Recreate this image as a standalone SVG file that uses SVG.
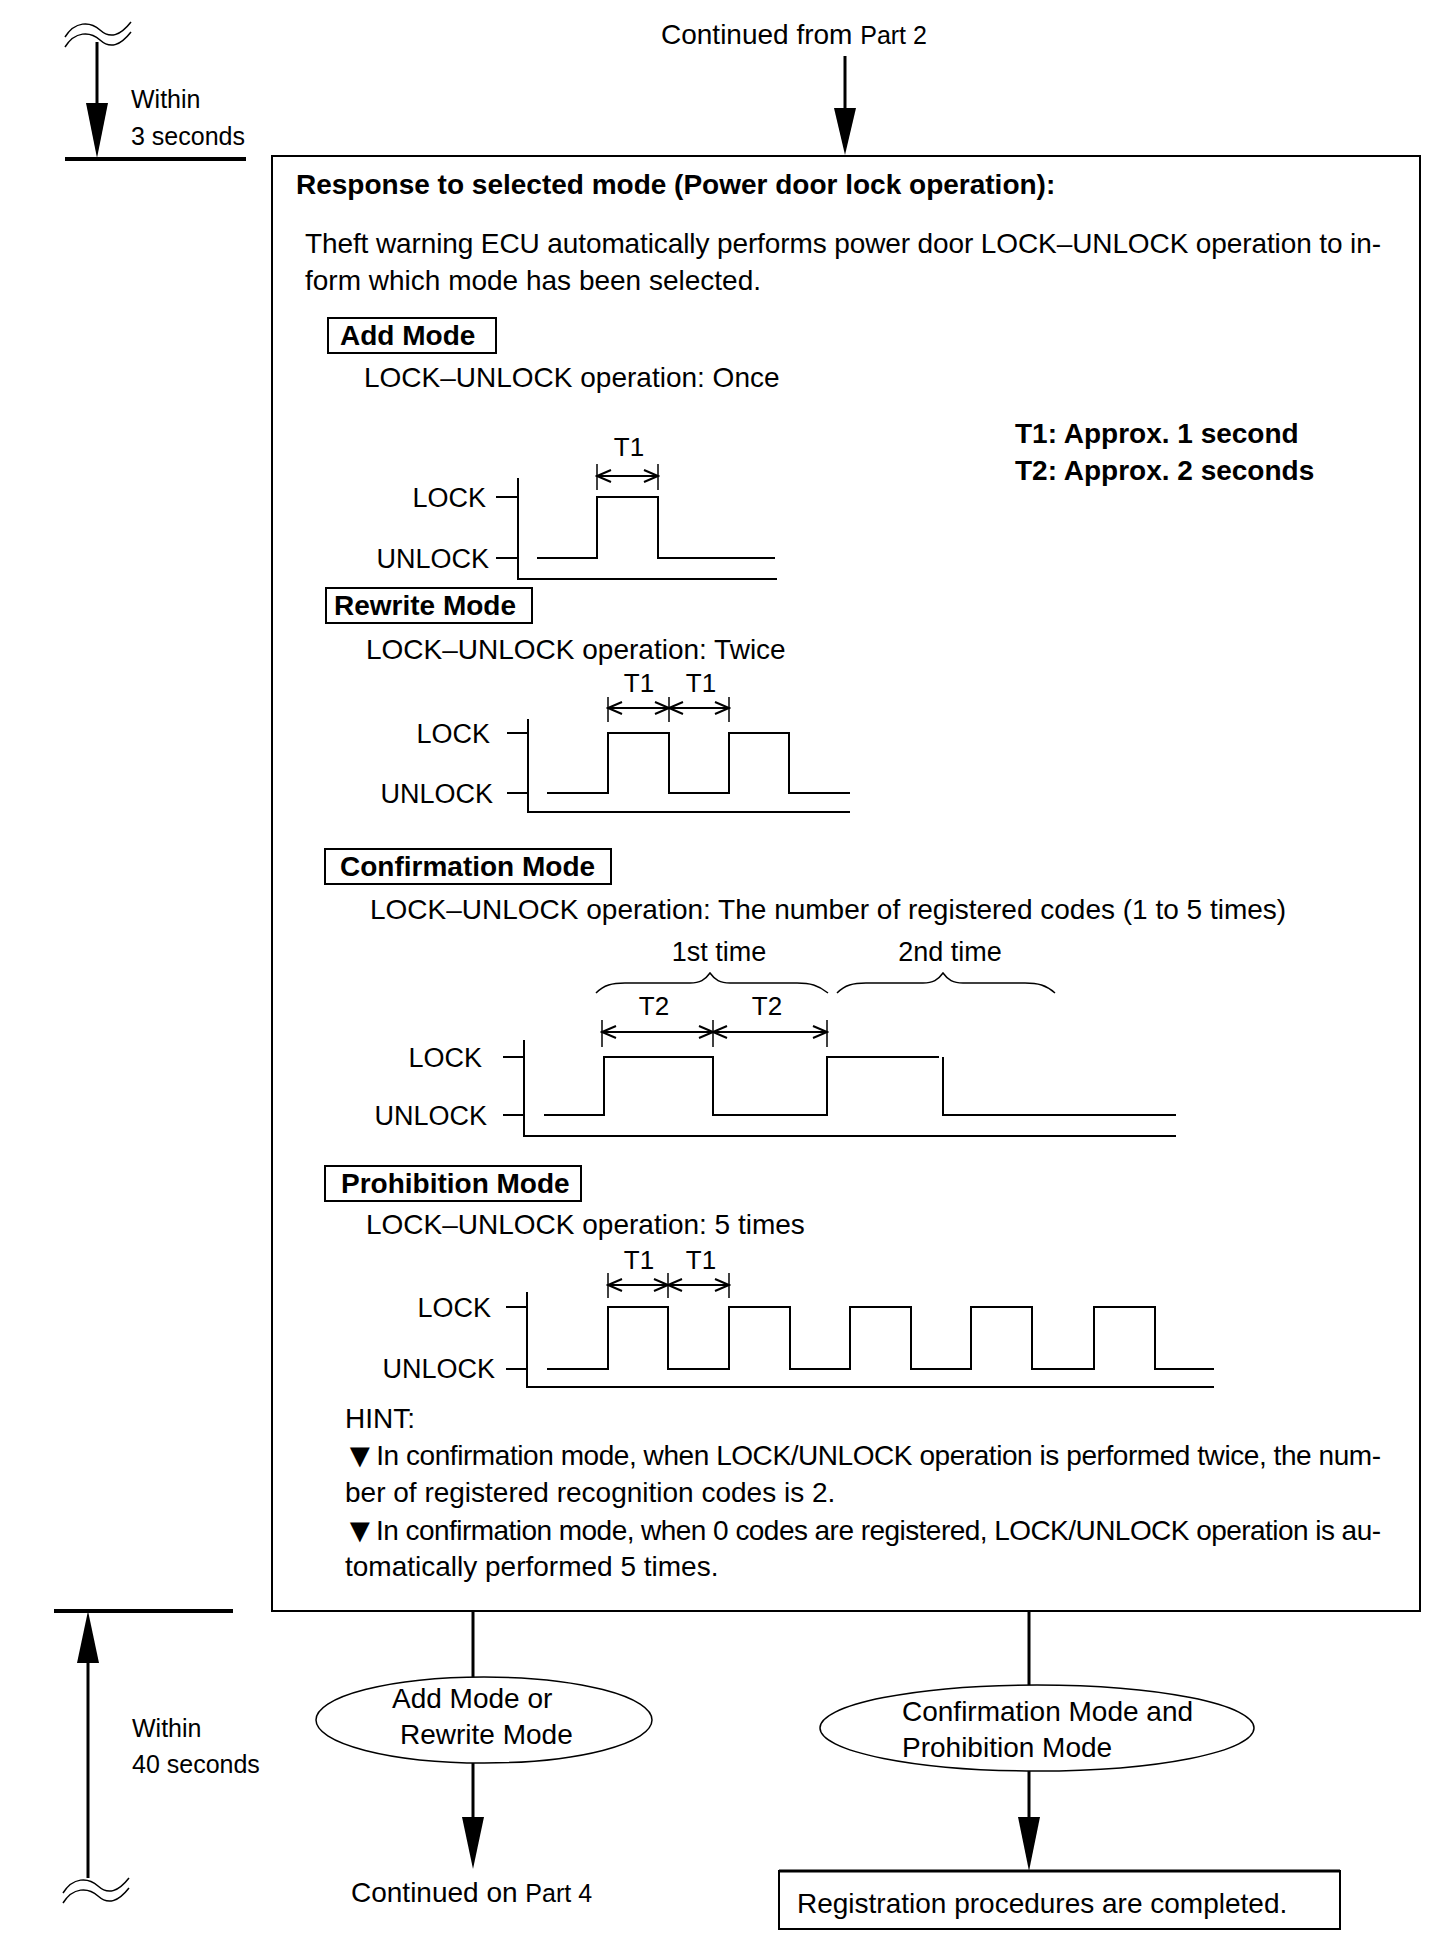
<svg xmlns="http://www.w3.org/2000/svg" width="1456" height="1958" viewBox="0 0 1456 1958">
<defs>
<style>
text{font-family:"Liberation Sans",Arial,sans-serif;fill:#000}
.t28{font-size:28px}
.b28{font-size:28px;font-weight:bold}
.t27{font-size:27px}
.t26{font-size:26px}
.t25{font-size:25px}
.box{fill:none;stroke:#000;stroke-width:2}
.sig{fill:none;stroke:#000;stroke-width:2}
.axis{fill:none;stroke:#000;stroke-width:2}
.dim{fill:none;stroke:#000;stroke-width:2;marker-start:url(#oa);marker-end:url(#oa)}
.tick{fill:none;stroke:#000;stroke-width:1.5}
.conn{fill:none;stroke:#000;stroke-width:3}
.head{fill:#000;stroke:none}
.thick{stroke:#000;stroke-width:4}
.sq{fill:none;stroke:#000;stroke-width:1.5}
.ell{fill:#fff;stroke:#000;stroke-width:1.5}
.tri{font-size:34px}
</style>
<marker id="oa" viewBox="-16 -8 18 16" refX="0" refY="0" markerWidth="18" markerHeight="16" markerUnits="userSpaceOnUse" orient="auto-start-reverse">
<path d="M-14,-6 L0,0 L-14,6" fill="none" stroke="#000" stroke-width="2"/>
</marker>
</defs>

<!-- time scale top -->
<g id="timescale-top">
<path class="sq" d="M65,37 C75,21 90,21 100,30 C110,39 120,36 131,22"/>
<path class="sq" d="M65,47 C75,31 90,31 100,40 C110,49 120,46 131,32"/>
<line class="conn" x1="97" y1="42" x2="97" y2="110"/>
<polygon class="head" points="86,103 108,103 97,158"/>
<line class="thick" x1="65" y1="159" x2="246" y2="159"/>
<text class="t25" x="131" y="108">Within</text>
<text class="t25" x="131" y="145">3 seconds</text>
</g>

<!-- time scale bottom -->
<g id="timescale-bottom">
<line class="thick" x1="54" y1="1611" x2="233" y2="1611"/>
<polygon class="head" points="77,1663 99,1663 88,1611"/>
<line class="conn" x1="88" y1="1660" x2="88" y2="1878"/>
<path class="sq" d="M63,1893 C73,1877 88,1877 98,1886 C108,1895 118,1892 129,1878"/>
<path class="sq" d="M63,1903 C73,1887 88,1887 98,1896 C108,1905 118,1902 129,1888"/>
<text class="t25" x="132" y="1737">Within</text>
<text class="t25" x="132" y="1773">40 seconds</text>
</g>

<g id="start-label">
<text class="t28" x="661" y="44">Continued from <tspan font-size="25">Part 2</tspan></text>
</g>

<!-- main box -->
<g id="main-box">
<rect class="box" x="272" y="156" width="1148" height="1455"/>
<text class="b28" x="296" y="194">Response to selected mode (Power door lock operation):</text>
<text class="t28" x="305" y="253" textLength="1076" lengthAdjust="spacing">Theft warning ECU automatically performs power door LOCK–UNLOCK operation to in-</text>
<text class="t28" x="305" y="290">form which mode has been selected.</text>
<text class="b28" x="1015" y="443">T1: Approx. 1 second</text>
<text class="b28" x="1015" y="480">T2: Approx. 2 seconds</text>

<!-- Add Mode -->
<g id="add-mode">
<rect class="box" x="328" y="318" width="168" height="35"/>
<text class="b28" x="340" y="345">Add Mode</text>
<text class="t28" x="364" y="387">LOCK–UNLOCK operation: Once</text>
<text class="t26" x="629" y="456" text-anchor="middle">T1</text>
<line class="tick" x1="597" y1="464" x2="597" y2="490"/>
<line class="tick" x1="658" y1="464" x2="658" y2="490"/>
<line class="dim" x1="597" y1="476" x2="658" y2="476"/>
<polyline class="axis" points="518,478 518,579 777,579"/>
<line class="axis" x1="496" y1="497" x2="518" y2="497"/>
<line class="axis" x1="496" y1="558" x2="518" y2="558"/>
<text class="t27" x="486" y="507" text-anchor="end">LOCK</text>
<text class="t27" x="489" y="568" text-anchor="end">UNLOCK</text>
<path class="sig" d="M537,558 H597 V497 H658 V558 H775"/>
</g>

<!-- Rewrite Mode -->
<g id="rewrite-mode">
<rect class="box" x="326" y="588" width="206" height="35"/>
<text class="b28" x="334" y="615">Rewrite Mode</text>
<text class="t28" x="366" y="659">LOCK–UNLOCK operation: Twice</text>
<text class="t26" x="639" y="692" text-anchor="middle">T1</text>
<text class="t26" x="701" y="692" text-anchor="middle">T1</text>
<line class="tick" x1="608" y1="697" x2="608" y2="722"/>
<line class="tick" x1="669" y1="697" x2="669" y2="722"/>
<line class="tick" x1="729" y1="697" x2="729" y2="722"/>
<line class="dim" x1="608" y1="708" x2="669" y2="708"/>
<line class="dim" x1="669" y1="708" x2="729" y2="708"/>
<polyline class="axis" points="528,719 528,812 850,812"/>
<line class="axis" x1="507" y1="733" x2="528" y2="733"/>
<line class="axis" x1="507" y1="793" x2="528" y2="793"/>
<text class="t27" x="490" y="743" text-anchor="end">LOCK</text>
<text class="t27" x="493" y="803" text-anchor="end">UNLOCK</text>
<path class="sig" d="M547,793 H608 V733 H669 V793 H729 V733 H789 V793 H850"/>
</g>

<!-- Confirmation Mode -->
<g id="confirmation-mode">
<rect class="box" x="325" y="849" width="286" height="35"/>
<text class="b28" x="340" y="876">Confirmation Mode</text>
<text class="t28" x="370" y="919">LOCK–UNLOCK operation: The number of registered codes (1 to 5 times)</text>
<text class="t27" x="719" y="961" text-anchor="middle">1st time</text>
<text class="t27" x="950" y="961" text-anchor="middle">2nd time</text>
<path class="sq" d="M596,993 C604,985 612,983 625,983 L690,983 C700,983 705,980 710,973 C715,980 720,983 730,983 L797,983 C810,983 818,985 828,993"/>
<path class="sq" d="M837,993 C845,985 853,983 866,983 L923,983 C933,983 938,980 943,973 C948,980 953,983 963,983 L1025,983 C1038,983 1046,985 1055,993"/>
<text class="t26" x="654" y="1015" text-anchor="middle">T2</text>
<text class="t26" x="767" y="1015" text-anchor="middle">T2</text>
<line class="tick" x1="602" y1="1020" x2="602" y2="1047"/>
<line class="tick" x1="713" y1="1020" x2="713" y2="1047"/>
<line class="tick" x1="827" y1="1020" x2="827" y2="1047"/>
<line class="dim" x1="602" y1="1032" x2="713" y2="1032"/>
<line class="dim" x1="713" y1="1032" x2="827" y2="1032"/>
<polyline class="axis" points="524,1040 524,1136 1176,1136"/>
<line class="axis" x1="503" y1="1057" x2="524" y2="1057"/>
<line class="axis" x1="503" y1="1115" x2="524" y2="1115"/>
<text class="t27" x="482" y="1067" text-anchor="end">LOCK</text>
<text class="t27" x="487" y="1125" text-anchor="end">UNLOCK</text>
<path class="sig" d="M544,1115 H604 V1057 H713 V1115 H827 V1057 H939"/>
<path class="sig" d="M943,1057 V1115 H1176"/>
</g>

<!-- Prohibition Mode -->
<g id="prohibition-mode">
<rect class="box" x="325" y="1166" width="256" height="35"/>
<text class="b28" x="341" y="1193">Prohibition Mode</text>
<text class="t28" x="366" y="1234">LOCK–UNLOCK operation: 5 times</text>
<text class="t26" x="639" y="1269" text-anchor="middle">T1</text>
<text class="t26" x="701" y="1269" text-anchor="middle">T1</text>
<line class="tick" x1="608" y1="1273" x2="608" y2="1298"/>
<line class="tick" x1="668" y1="1273" x2="668" y2="1298"/>
<line class="tick" x1="729" y1="1273" x2="729" y2="1298"/>
<line class="dim" x1="608" y1="1285" x2="668" y2="1285"/>
<line class="dim" x1="668" y1="1285" x2="729" y2="1285"/>
<polyline class="axis" points="527,1292 527,1387 1214,1387"/>
<line class="axis" x1="506" y1="1307" x2="527" y2="1307"/>
<line class="axis" x1="506" y1="1369" x2="527" y2="1369"/>
<text class="t27" x="491" y="1317" text-anchor="end">LOCK</text>
<text class="t27" x="495" y="1378" text-anchor="end">UNLOCK</text>
<path class="sig" d="M547,1369 H608 V1307 H668 V1369 H729 V1307 H790 V1369 H850 V1307 H911 V1369 H971 V1307 H1032 V1369 H1094 V1307 H1155 V1369 H1214"/>
</g>

<!-- HINT -->
<g id="hint">
<text class="t28" x="345" y="1428">HINT:</text>
<text class="t28" x="343" y="1467" textLength="1038" lengthAdjust="spacing"><tspan class="tri">▼</tspan><tspan dy="-2">In confirmation mode, when LOCK/UNLOCK operation is performed twice, the num-</tspan></text>
<text class="t28" x="345" y="1502">ber of registered recognition codes is 2.</text>
<text class="t28" x="343" y="1542" textLength="1038" lengthAdjust="spacing"><tspan class="tri">▼</tspan><tspan dy="-2">In confirmation mode, when 0 codes are registered, LOCK/UNLOCK operation is au-</tspan></text>
<text class="t28" x="345" y="1576">tomatically performed 5 times.</text>
</g>
</g>

<!-- connectors -->
<g id="connectors">
<line class="conn" x1="845" y1="56" x2="845" y2="112"/>
<polygon class="head" points="834,108 856,108 845,155"/>
<line class="conn" x1="473" y1="1611" x2="473" y2="1678"/>
<line class="conn" x1="1029" y1="1611" x2="1029" y2="1686"/>
<line class="conn" x1="473" y1="1763" x2="473" y2="1820"/>
<polygon class="head" points="462,1817 484,1817 473,1869"/>
<line class="conn" x1="1029" y1="1771" x2="1029" y2="1820"/>
<polygon class="head" points="1018,1817 1040,1817 1029,1871"/>
</g>

<g id="node-add-rewrite">
<ellipse class="ell" cx="484" cy="1720" rx="168" ry="43"/>
<text class="t28" x="392" y="1708">Add Mode or</text>
<text class="t28" x="400" y="1744">Rewrite Mode</text>
</g>

<g id="node-confirm-prohibit">
<ellipse class="ell" cx="1037" cy="1728" rx="217" ry="43"/>
<text class="t28" x="902" y="1721">Confirmation Mode and</text>
<text class="t28" x="902" y="1757">Prohibition Mode</text>
</g>

<g id="node-continued">
<text class="t28" x="351" y="1902">Continued on <tspan font-size="25">Part 4</tspan></text>
</g>

<g id="node-completed">
<rect class="box" x="779" y="1871" width="561" height="58"/>
<line x1="779" y1="1871" x2="1340" y2="1871" stroke="#000" stroke-width="3"/>
<text class="t28" x="797" y="1913">Registration procedures are completed.</text>
</g>
</svg>
